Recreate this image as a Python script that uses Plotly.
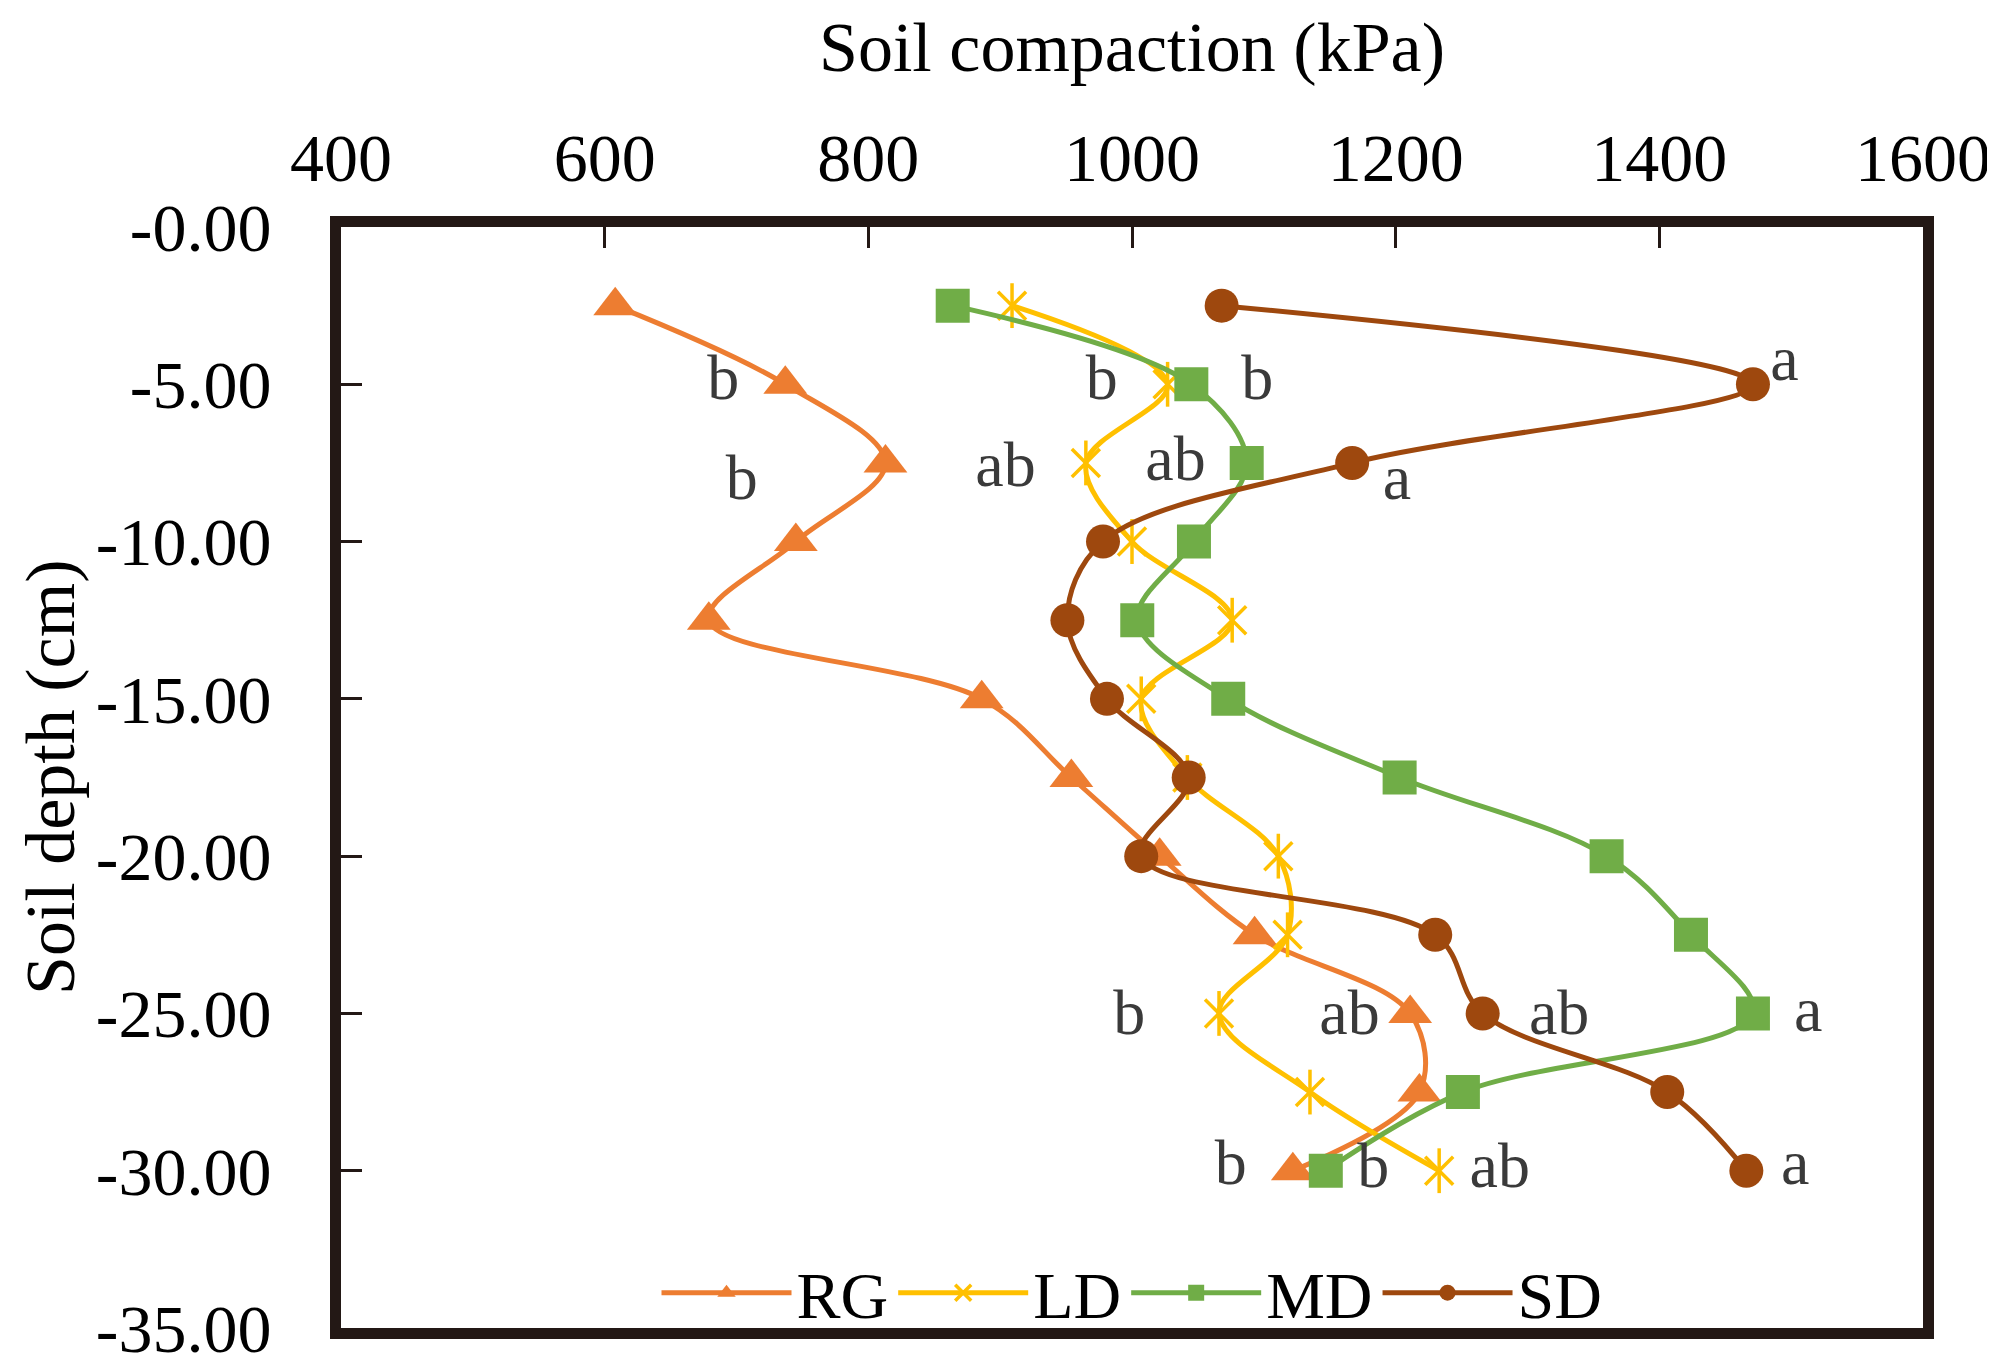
import plotly.graph_objects as go

# soil depth (cm) of each measuring point
depth = [-2.5, -5, -7.5, -10, -12.5, -15, -17.5, -20, -22.5, -25, -27.5, -30]

# soil compaction (kPa) per treatment
rg = [608, 737, 813, 745, 679, 886, 954, 1021, 1093, 1211, 1218, 1122]
ld = [909, 1027, 965, 1000, 1076, 1007, 1042, 1111, 1118, 1066, 1135, 1233]
md = [864, 1045, 1087, 1047, 1004, 1073, 1203, 1360, 1424, 1471, 1251, 1147]
sd = [1068, 1471, 1167, 978, 951, 981, 1043, 1007, 1230, 1266, 1406, 1466]

# significance letters
letter_text = ["b", "b", "b", "ab", "b", "ab", "a", "a",
               "b", "ab", "ab", "a", "b", "b", "ab", "a"]
letter_x = [690, 704, 977, 904, 1095, 1033, 1495, 1201,
            998, 1165, 1324, 1513, 1075, 1183, 1279, 1503]
letter_y = [-4.96, -8.13, -4.96, -7.74, -4.96, -7.54, -4.37, -8.13,
            -25.16, -25.16, -25.16, -25.04, -29.92, -30.0, -30.0, -29.92]

x_ticks = [400, 600, 800, 1000, 1200, 1400, 1600]
y_ticks = [0, -5, -10, -15, -20, -25, -30, -35]
y_ticktext = ["-0.00", "-5.00", "-10.00", "-15.00", "-20.00", "-25.00", "-30.00", "-35.00"]

FONT = "Liberation Serif"
FRAME = "#231815"
YEL = "#FFC000"

fig = go.Figure()

fig.add_trace(go.Scatter(
    x=rg, y=depth, mode="lines+markers", name="RG",
    line=dict(color="#ED7D31", width=5, shape="spline"),
    marker=dict(symbol="triangle-up", size=38, color="#ED7D31")
))
fig.add_trace(go.Scatter(
    x=ld, y=depth, mode="lines+markers", name="LD",
    line=dict(color=YEL, width=5, shape="spline"),
    marker=dict(symbol="x-thin-open", size=28, color=YEL, line=dict(color=YEL, width=3.5))
))
# vertical stroke of the asterisk marker
fig.add_trace(go.Scatter(
    x=ld, y=depth, mode="markers", showlegend=False, hoverinfo="skip",
    marker=dict(symbol="line-ns-open", size=32, color=YEL, line=dict(color=YEL, width=3.5))
))
fig.add_trace(go.Scatter(
    x=md, y=depth, mode="lines+markers", name="MD",
    line=dict(color="#70AD47", width=5, shape="spline"),
    marker=dict(symbol="square", size=34, color="#70AD47")
))
fig.add_trace(go.Scatter(
    x=sd, y=depth, mode="lines+markers", name="SD",
    line=dict(color="#9E480E", width=5, shape="spline"),
    marker=dict(symbol="circle", size=34, color="#9E480E")
))

fig.add_trace(go.Scatter(
    x=letter_x, y=letter_y, mode="text", text=letter_text, showlegend=False,
    textfont=dict(family=FONT, size=64, color="#3A3A3A"), hoverinfo="skip"
))

fig.update_layout(
    width=1995, height=1371,
    margin=dict(l=333, r=55, t=219, b=25),
    paper_bgcolor="white", plot_bgcolor="white",
    font=dict(family=FONT, size=68, color="black"),
    title=dict(text="Soil compaction (kPa)", x=0.5, xref="paper",
               y=1 - 38 / 1371, yref="container", yanchor="middle",
               font=dict(family=FONT, size=70, color="black")),
    legend=dict(orientation="h", x=0.5, xanchor="center", y=0.032, yanchor="middle",
                font=dict(family=FONT, size=66, color="black"),
                bgcolor="rgba(0,0,0,0)", itemwidth=130),
    annotations=[dict(text="Soil depth (cm)", xref="paper", yref="paper",
                      x=-0.1836, y=0.5, xanchor="center", yanchor="middle",
                      textangle=-90, showarrow=False,
                      font=dict(family=FONT, size=70, color="black"))],
)

fig.update_xaxes(
    side="top", range=[400, 1600], tickvals=x_ticks,
    showgrid=False, zeroline=False,
    showline=True, linecolor=FRAME, linewidth=11, mirror=True,
    ticks="inside", ticklen=21, tickwidth=3, tickcolor=FRAME,
    ticklabelstandoff=8, ticklabeloverflow="allow"
)
fig.update_yaxes(
    range=[-35, 0], tickvals=y_ticks, ticktext=y_ticktext,
    showgrid=False, zeroline=False,
    showline=True, linecolor=FRAME, linewidth=11, mirror=True,
    ticks="inside", ticklen=21, tickwidth=3, tickcolor=FRAME,
    ticklabelstandoff=45, ticklabeloverflow="allow"
)

fig.write_html("out.html")
